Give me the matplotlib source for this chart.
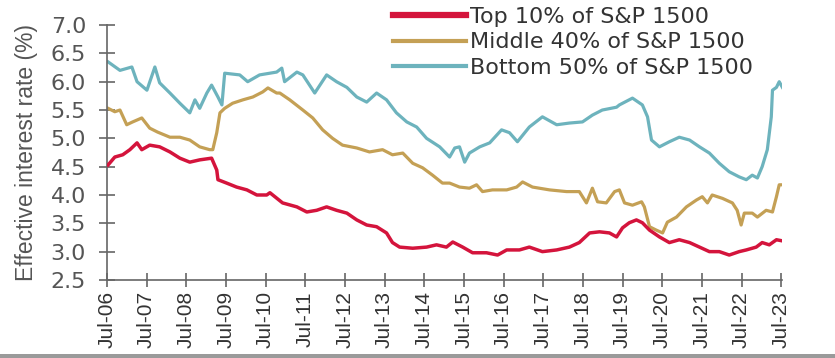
# effective interest rate by S&P 1500 size bucket

import matplotlib.pyplot as plt
from matplotlib.patches import Rectangle

# x values are decimal years
top_years = [2006.53, 2006.70, 2006.90, 2007.08, 2007.26, 2007.38, 2007.58, 2007.83, 2008.09, 2008.34,
             2008.59, 2008.84, 2009.14, 2009.27, 2009.30, 2009.52, 2009.77, 2010.03, 2010.28, 2010.53,
             2010.61, 2010.93, 2011.29, 2011.54, 2011.79, 2012.04, 2012.29, 2012.55, 2012.80, 2013.05,
             2013.30, 2013.55, 2013.70, 2013.88, 2014.21, 2014.56, 2014.81, 2015.06, 2015.22, 2015.47,
             2015.72, 2016.07, 2016.35, 2016.58, 2016.90, 2017.15, 2017.48, 2017.84, 2018.16, 2018.41,
             2018.67, 2018.92, 2019.17, 2019.35, 2019.50, 2019.67, 2019.85, 2020.00, 2020.18, 2020.43,
             2020.68, 2020.93, 2021.19, 2021.44, 2021.69, 2021.94, 2022.19, 2022.44, 2022.62, 2022.87,
             2023.02, 2023.20, 2023.38, 2023.53]
top_rate = [4.53, 4.67, 4.71, 4.80, 4.92, 4.80, 4.88, 4.85, 4.76, 4.65,
            4.58, 4.62, 4.65, 4.44, 4.27, 4.21, 4.14, 4.09, 4.00, 4.00,
            4.04, 3.86, 3.79, 3.70, 3.73, 3.79, 3.73, 3.68, 3.56, 3.47,
            3.44, 3.33, 3.16, 3.08, 3.06, 3.08, 3.12, 3.08, 3.17, 3.08,
            2.98, 2.98, 2.94, 3.03, 3.03, 3.08, 3.00, 3.03, 3.08, 3.16,
            3.33, 3.35, 3.33, 3.26, 3.42, 3.51, 3.56, 3.51, 3.38, 3.26,
            3.16, 3.21, 3.16, 3.08, 3.00, 3.00, 2.94, 3.00, 3.03, 3.08,
            3.16, 3.12, 3.21, 3.19]

mid_years = [2006.53, 2006.70, 2006.83, 2007.00, 2007.15, 2007.38, 2007.58, 2007.78, 2008.09, 2008.34,
             2008.59, 2008.84, 2009.09, 2009.17, 2009.27, 2009.35, 2009.47, 2009.67, 2009.93, 2010.18,
             2010.43, 2010.56, 2010.78, 2010.86, 2011.11, 2011.44, 2011.69, 2011.94, 2012.19, 2012.44,
             2012.80, 2013.12, 2013.45, 2013.70, 2013.96, 2014.21, 2014.46, 2014.71, 2014.96, 2015.14,
             2015.39, 2015.64, 2015.82, 2015.97, 2016.22, 2016.58, 2016.83, 2016.98, 2017.23, 2017.66,
             2018.09, 2018.41, 2018.59, 2018.74, 2018.87, 2019.09, 2019.30, 2019.42, 2019.55, 2019.75,
             2019.98, 2020.05, 2020.18, 2020.35, 2020.51, 2020.63, 2020.86, 2021.11, 2021.36, 2021.51,
             2021.64, 2021.76, 2022.02, 2022.27, 2022.39, 2022.49, 2022.57, 2022.77, 2022.90, 2023.12,
             2023.28, 2023.38, 2023.45, 2023.53]
mid_rate = [5.53, 5.47, 5.50, 5.24, 5.29, 5.36, 5.18, 5.11, 5.02, 5.02,
            4.97, 4.85, 4.80, 4.80, 5.10, 5.45, 5.53, 5.62, 5.68, 5.73,
            5.82, 5.89, 5.80, 5.80, 5.68, 5.50, 5.36, 5.15, 5.00, 4.88,
            4.83, 4.76, 4.80, 4.71, 4.74, 4.56, 4.48, 4.35, 4.21, 4.21,
            4.14, 4.12, 4.18, 4.06, 4.09, 4.09, 4.14, 4.23, 4.14, 4.09,
            4.06, 4.06, 3.86, 4.12, 3.88, 3.86, 4.06, 4.09, 3.86, 3.82,
            3.88, 3.79, 3.44, 3.38, 3.33, 3.52, 3.61, 3.79, 3.91, 3.97,
            3.86, 4.00, 3.94, 3.86, 3.73, 3.47, 3.68, 3.68, 3.61, 3.73,
            3.70, 3.97, 4.18, 4.18]

bot_years = [2006.53, 2006.83, 2007.13, 2007.26, 2007.51, 2007.71, 2007.83, 2008.09, 2008.34, 2008.59,
             2008.72, 2008.84, 2009.02, 2009.14, 2009.30, 2009.40, 2009.47, 2009.85, 2010.05, 2010.35,
             2010.78, 2010.91, 2010.98, 2011.29, 2011.44, 2011.74, 2012.04, 2012.29, 2012.55, 2012.80,
             2013.05, 2013.30, 2013.55, 2013.80, 2014.06, 2014.31, 2014.56, 2014.89, 2015.14, 2015.27,
             2015.39, 2015.52, 2015.64, 2015.90, 2016.15, 2016.45, 2016.65, 2016.85, 2017.15, 2017.48,
             2017.84, 2018.16, 2018.49, 2018.74, 2018.99, 2019.35, 2019.42, 2019.75, 2020.00, 2020.13,
             2020.23, 2020.43, 2020.68, 2020.93, 2021.19, 2021.44, 2021.69, 2021.94, 2022.19, 2022.44,
             2022.62, 2022.77, 2022.90, 2023.02, 2023.15, 2023.25, 2023.28, 2023.38, 2023.45, 2023.53]
bot_rate = [6.35, 6.20, 6.26, 6.00, 5.85, 6.26, 5.98, 5.80, 5.62, 5.45,
            5.68, 5.53, 5.80, 5.94, 5.73, 5.59, 6.15, 6.12, 6.00, 6.12,
            6.17, 6.24, 6.00, 6.17, 6.12, 5.80, 6.12, 6.00, 5.90, 5.73,
            5.64, 5.80, 5.68, 5.45, 5.29, 5.20, 5.00, 4.85, 4.67, 4.83,
            4.85, 4.58, 4.74, 4.85, 4.92, 5.15, 5.10, 4.94, 5.20, 5.38,
            5.24, 5.27, 5.29, 5.41, 5.50, 5.55, 5.59, 5.71, 5.59, 5.38,
            4.97, 4.85, 4.94, 5.02, 4.97, 4.85, 4.74, 4.56, 4.41, 4.32,
            4.27, 4.35, 4.30, 4.50, 4.80, 5.38, 5.85, 5.90, 6.00, 5.90]

tick_years = list(range(2006, 2024))
tick_labels = [f"Jul-{y % 100:02d}" for y in tick_years]

plt.rcParams['font.family'] = ['Liberation Sans', 'DejaVu Sans']

fig = plt.figure(figsize=(8.35, 3.58), dpi=100)
ax = fig.add_axes([0.128, 0.218, 0.809, 0.712])

# series
ax.plot(top_years, top_rate, color='#d4143c', lw=2.5, label='Top 10% of S&P 1500', zorder=3)
ax.plot(mid_years, mid_rate, color='#c4a055', lw=2.3, label='Middle 40% of S&P 1500')
ax.plot(bot_years, bot_rate, color='#6db3bd', lw=2.3, label='Bottom 50% of S&P 1500')

ax.set_xlim(2006.5, 2023.53)
ax.set_ylim(2.5, 7.0)
ax.set_yticks([2.5, 3.0, 3.5, 4.0, 4.5, 5.0, 5.5, 6.0, 6.5, 7.0])
ax.set_xticks([y + 0.5 for y in tick_years])
ax.set_xticklabels(tick_labels, rotation=90)

# axes look
for side in ['top', 'right']:
    ax.spines[side].set_visible(False)
for side in ['left', 'bottom']:
    ax.spines[side].set_color('#666666')
    ax.spines[side].set_linewidth(1.2)
ax.tick_params(axis='y', direction='inout', length=12, width=1.2, color='#666666',
               labelsize=16, labelcolor='#555555', pad=9)
for t in ax.get_yticklabels():
    t.set_family('DejaVu Sans')
ax.tick_params(axis='x', direction='inout', length=10, width=1.2, color='#666666',
               labelsize=15, labelcolor='#333333', pad=3)
ax.set_ylabel('Effective interest rate (%)', fontsize=16.5, color='#555555', labelpad=9)

# legend up top
leg = fig.legend(loc='upper left', bbox_to_anchor=(0.471, 0.98), frameon=False,
                 prop={'family': 'DejaVu Sans', 'size': 16}, handlelength=3.25,
                 handletextpad=0.2, labelspacing=0.24, borderpad=0, borderaxespad=0)
for line in leg.get_lines():
    line.set_linewidth(3)
leg.get_lines()[0].set_linewidth(4.5)
for t in leg.get_texts():
    t.set_color('#333333')

# thin grey strip at the bottom edge
fig.patches.append(Rectangle((0, 0), 1, 0.012, transform=fig.transFigure,
                             facecolor='#9a9a9a', edgecolor='none'))

fig.savefig('out.png', dpi=100)
